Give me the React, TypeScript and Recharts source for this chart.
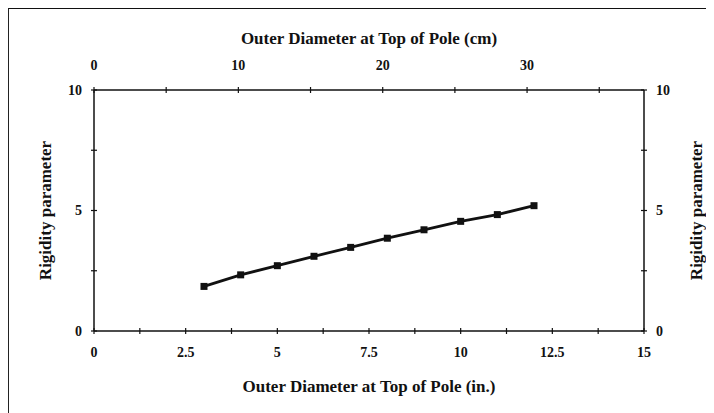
import { LineChart, Line, XAxis, YAxis } from 'recharts';

// outer diameter (in.) and rigidity parameter
const diameters = [3, 4, 5, 6, 7, 8, 9, 10, 11, 12];
const rigidity = [1.85, 2.33, 2.71, 3.1, 3.47, 3.85, 4.2, 4.55, 4.83, 5.2];

const inTicks = [0, 1.25, 2.5, 3.75, 5, 6.25, 7.5, 8.75, 10, 11.25, 12.5, 13.75, 15];
const inLabels = [0, 2.5, 5, 7.5, 10, 12.5, 15];
const cmTicks = [0, 5, 10, 15, 20, 25, 30, 35];
const cmLabels = [0, 10, 20, 30];
const yTicks = [0, 2.5, 5, 7.5, 10];
const yLabels = [0, 5, 10];

const data = diameters.map((d, i) => ({ inch: d, cm: d * 2.54, value: rigidity[i] }));

const FONT = '"Liberation Serif", "Times New Roman", serif';
const INK = '#111';

// tick that crosses the axis line, with text only on labelled values
const makeTick =
  (side: 'top' | 'bottom' | 'left' | 'right', margin: number, labels: number[]) =>
  (props: any) => {
    const { x, y, payload } = props;
    const v = payload.value;
    const show = labels.some((l) => Math.abs(l - v) < 1e-6);
    let ax = x;
    let ay = y;
    if (side === 'bottom') ay = y - margin;
    if (side === 'top') ay = y + margin;
    if (side === 'left') ax = x + margin;
    if (side === 'right') ax = x - margin;
    const horiz = side === 'top' || side === 'bottom';
    return (
      <g>
        {horiz ? (
          <line x1={ax} x2={ax} y1={ay - 3} y2={ay + 3} stroke={INK} strokeWidth={1.2} />
        ) : (
          <line x1={ax - 3} x2={ax + 3} y1={ay} y2={ay} stroke={INK} strokeWidth={1.2} />
        )}
        {show && (
          <text
            x={x}
            y={y}
            textAnchor={side === 'left' ? 'end' : side === 'right' ? 'start' : 'middle'}
            dominantBaseline="central"
            fontFamily={FONT}
            fontWeight="bold"
            fontSize={14}
            fill={INK}
          >
            {v}
          </text>
        )}
      </g>
    );
  };

const SquareDot = (props: any) => {
  const { cx, cy } = props;
  return <rect x={cx - 3.5} y={cy - 3.5} width={7} height={7} fill={INK} />;
};

const titleStyle = { fontFamily: FONT, fontWeight: 'bold' as const, fontSize: 17, fill: INK };

const yTitle = (dx: number) => ({
  content: ({ viewBox }: any) => {
    const cx = viewBox.x + dx;
    const cy = viewBox.y + viewBox.height / 2;
    return (
      <text
        x={cx}
        y={cy}
        transform={`rotate(-90 ${cx} ${cy})`}
        textAnchor="middle"
        dominantBaseline="central"
        {...titleStyle}
      >
        Rigidity parameter
      </text>
    );
  },
});

export default function App() {
  return (
    <div
      style={{
        width: 707,
        height: 406,
        borderTop: '2px solid #111',
        borderLeft: '2px solid #222',
        boxSizing: 'border-box',
        position: 'relative',
        left: -1,
        top: -1,
      }}
    >
      <LineChart
        width={705}
        height={404}
        data={data}
        margin={{ top: 21, right: 10, bottom: 12, left: 23 }}
      >
        <XAxis
          xAxisId="bottom"
          dataKey="inch"
          type="number"
          domain={[0, 15]}
          ticks={inTicks}
          interval={0}
          orientation="bottom"
          height={70}
          tickSize={0}
          tickMargin={21}
          tickLine={false}
          axisLine={{ stroke: INK, strokeWidth: 1.5 }}
          tick={makeTick('bottom', 21, inLabels)}
          label={{
            content: ({ viewBox }: any) => (
              <text
                x={viewBox.x + viewBox.width / 2}
                y={viewBox.y + 55}
                textAnchor="middle"
                dominantBaseline="central"
                {...titleStyle}
              >
                Outer Diameter at Top of Pole (in.)
              </text>
            ),
          }}
        />
        <XAxis
          xAxisId="top"
          dataKey="cm"
          type="number"
          domain={[0, 38.1]}
          allowDataOverflow
          ticks={cmTicks}
          interval={0}
          orientation="top"
          height={60}
          tickSize={0}
          tickMargin={25}
          tickLine={false}
          axisLine={{ stroke: INK, strokeWidth: 1.5 }}
          tick={makeTick('top', 25, cmLabels)}
          label={{
            content: ({ viewBox }: any) => (
              <text
                x={viewBox.x + viewBox.width / 2}
                y={viewBox.y + 8}
                textAnchor="middle"
                dominantBaseline="central"
                {...titleStyle}
              >
                Outer Diameter at Top of Pole (cm)
              </text>
            ),
          }}
        />
        <YAxis
          yAxisId="left"
          type="number"
          domain={[0, 10]}
          ticks={yTicks}
          interval={0}
          width={62}
          tickSize={0}
          tickMargin={12}
          tickLine={false}
          axisLine={{ stroke: INK, strokeWidth: 1.5 }}
          tick={makeTick('left', 12, yLabels)}
          label={yTitle(13)}
        />
        <YAxis
          yAxisId="right"
          orientation="right"
          type="number"
          domain={[0, 10]}
          allowDataOverflow
          ticks={yTicks}
          interval={0}
          width={60}
          tickSize={0}
          tickMargin={12}
          tickLine={false}
          axisLine={{ stroke: INK, strokeWidth: 1.5 }}
          tick={makeTick('right', 12, yLabels)}
          label={yTitle(52)}
        />
        <Line
          xAxisId="bottom"
          yAxisId="left"
          dataKey="value"
          stroke={INK}
          strokeWidth={2.8}
          dot={<SquareDot />}
          activeDot={false}
          isAnimationActive={false}
        />
        {/* same series in cm against the right axis, invisible, so both secondary axes are live */}
        <Line
          xAxisId="top"
          yAxisId="right"
          dataKey="value"
          stroke="none"
          dot={false}
          activeDot={false}
          legendType="none"
          isAnimationActive={false}
        />
      </LineChart>
    </div>
  );
}
